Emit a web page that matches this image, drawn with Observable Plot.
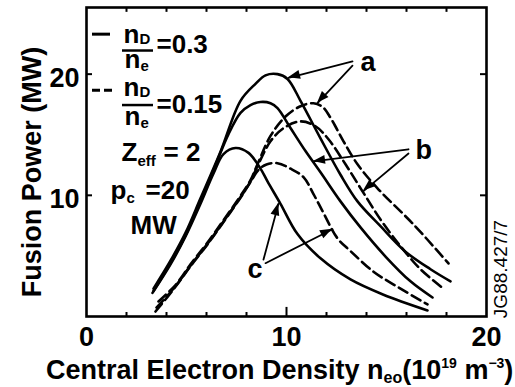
<!DOCTYPE html>
<html><head><meta charset="utf-8">
<script src="https://cdn.jsdelivr.net/npm/d3@7"></script>
<script src="https://cdn.jsdelivr.net/npm/@observablehq/plot@0.6"></script>
<style>html,body{margin:0;padding:0;background:#fff;}</style>
</head><body><div id="chart"></div>
<script>
// ---- data ----
const solidA_x = [3.35, 4.2, 4.95, 5.7, 6.7, 7.7, 8.45, 8.95, 9.55, 10.05, 10.7, 11.7, 12.7, 13.55, 14.7, 15.95, 17.2, 18.2];
const solidA_y = [2.3, 4.6, 6.9, 9.75, 13.6, 17.8, 19.2, 19.9, 20.0, 19.6, 17.8, 14.7, 11.7, 9.5, 7.45, 5.35, 3.9, 2.9];
const solidB_x = [3.35, 4.2, 4.95, 5.7, 6.45, 7.1, 7.7, 8.2, 8.7, 9.2, 9.55, 10.2, 10.95, 11.7, 12.7, 13.7, 14.95, 16.2, 17.3];
const solidB_y = [2.1, 4.4, 6.7, 9.55, 12.5, 15.05, 16.8, 17.45, 17.7, 17.6, 17.2, 15.55, 13.65, 11.9, 9.5, 7.35, 4.95, 2.9, 1.57];
const solidC_x = [3.3, 4.2, 4.95, 5.7, 6.35, 6.85, 7.45, 8.1, 8.7, 9.05, 9.7, 10.55, 11.7, 13.2, 14.85, 17.05];
const solidC_y = [1.95, 4.3, 6.6, 9.3, 11.8, 13.4, 13.9, 13.5, 12.2, 11.15, 9.3, 6.8, 4.8, 3.06, 1.8, 0.5];
const dashedA_x = [3.6, 4.45, 5.2, 6.05, 6.85, 7.7, 8.2, 8.55, 9.2, 9.95, 10.7, 11.35, 11.8, 12.2, 12.85, 13.55, 14.55, 16.35, 18.1];
const dashedA_y = [1.24, 2.6, 4.3, 6.1, 7.95, 9.95, 11.25, 12.56, 14.9, 16.5, 17.35, 17.6, 17.3, 16.4, 14.46, 12.56, 10.58, 7.6, 4.38];
const dashedB_x = [3.5, 4.45, 5.2, 6.05, 6.85, 7.7, 8.2, 8.55, 9.2, 9.85, 10.7, 11.45, 12.1, 12.95, 13.8, 14.7, 15.7, 16.7, 17.9];
const dashedB_y = [0.74, 2.5, 4.2, 6.0, 7.85, 9.85, 11.15, 12.4, 14.46, 15.54, 16.1, 15.7, 14.63, 12.56, 10.33, 8.0, 5.8, 3.9, 2.23];
const dashedC_x = [3.45, 4.45, 5.2, 6.05, 6.85, 7.7, 8.2, 8.6, 9.0, 9.55, 10.2, 10.85, 11.35, 11.8, 12.55, 13.2, 14.35, 15.7, 17.05];
const dashedC_y = [0.41, 2.45, 4.15, 5.95, 7.8, 9.8, 11.1, 12.1, 12.55, 12.65, 12.2, 11.5, 10.1, 8.7, 6.45, 5.4, 3.7, 2.3, 1.0];

const xTickLabels = [0, 10, 20];
const yTickLabels = [10, 20];
const xMinorTicks = [2, 4, 6, 8, 12, 14, 16, 18];
const xMajorTicks = [10];
const xTopTicks = [2, 4, 6, 8, 10, 12, 14, 16, 18];
const yTicks = [10, 20];

// annotation arrows: label -> curve (data units)
const arrowFromX = [13.3, 13.3, 16.1, 16.1, 8.85, 8.95];
const arrowFromY = [21.05, 20.7, 13.8, 13.45, 4.7, 4.4];
const arrowToX   = [10.1, 11.55, 11.35, 13.85, 9.6, 12.3];
const arrowToY   = [19.7, 17.6, 12.8, 10.35, 9.3, 7.2];
const curveLabels = ["a", "b", "c"];
const curveLabelX = [13.7, 16.45, 8.05];
const curveLabelY = [20.25, 12.98, 3.14];

// legend block texts (data units, baseline)
const legTexts = ["n", "D", "n", "e", "=0.3", "n", "D", "n", "e", "=0.15", "Z", "eff", "= 2", "p", "c", "=20", "MW"];
const legX = [1.85, 2.65, 1.9, 2.7, 3.5, 1.85, 2.65, 1.9, 2.7, 3.5, 1.75, 2.55, 3.85, 1.2, 2.0, 2.95, 2.2];
const legY = [22.56, 22.48, 20.5, 20.25, 21.74, 18.18, 18.1, 15.79, 15.54, 16.78, 12.81, 12.4, 12.81, 9.67, 9.34, 9.67, 6.78];
const legSmall = [false, true, false, true, false, false, true, false, true, false, false, true, false, false, true, false, false];
const fracBarY = [21.95, 17.45];
const swatchSolidY = [23.3];
const swatchDashedY = [18.68];

// ---- build tables ----
function rows(name, xs, ys) { return xs.map((x, i) => ({series: name, x, y: ys[i]})); }
const solidRows = [
  ...rows("a", solidA_x, solidA_y),
  ...rows("b", solidB_x, solidB_y),
  ...rows("c", solidC_x, solidC_y)];
const dashedRows = [
  ...rows("a", dashedA_x, dashedA_y),
  ...rows("b", dashedB_x, dashedB_y),
  ...rows("c", dashedC_x, dashedC_y)];
const arrows = arrowFromX.map((_, i) => ({x1: arrowFromX[i], y1: arrowFromY[i], x2: arrowToX[i], y2: arrowToY[i]}));
const labelRows = curveLabels.map((t, i) => ({t, x: curveLabelX[i], y: curveLabelY[i]}));
const legRows = legTexts.map((t, i) => ({t, x: legX[i], y: legY[i], small: legSmall[i]}));

const FONT = "'Liberation Sans', Arial, Helvetica, sans-serif";

const plot = Plot.plot({
  width: 515, height: 387,
  marginLeft: 86, marginRight: 29, marginTop: 7, marginBottom: 71,
  x: {domain: [0, 20], axis: null},
  y: {domain: [0, 25.5], axis: null},
  style: {fontFamily: FONT, background: "white", color: "black"},
  marks: [
    Plot.ruleX(xMinorTicks, {x: d => d, y1: 0, y2: 0.33, strokeWidth: 2}),
    Plot.ruleX(xMajorTicks, {x: d => d, y1: 0, y2: 0.75, strokeWidth: 2}),
    Plot.ruleX(xTopTicks, {x: d => d, y1: 25.5, y2: 25.1, strokeWidth: 2}),
    Plot.ruleY(yTicks, {y: d => d, x1: 0, x2: 0.3, strokeWidth: 2}),
    Plot.ruleY(yTicks, {y: d => d, x1: 20, x2: 19.7, strokeWidth: 2}),
    Plot.frame({strokeWidth: 2.6}),
    Plot.text(xTickLabels, {x: d => d, y: 0, dy: 21, text: d => String(d), fontSize: 27, fontWeight: "bold", lineAnchor: "middle"}),
    Plot.text(yTickLabels, {x: 0, y: d => d, dx: -7, dy: 4, text: d => String(d), fontSize: 27, fontWeight: "bold", textAnchor: "end", lineAnchor: "middle"}),
    Plot.line(solidRows, {x: "x", y: "y", z: "series", stroke: "black", strokeWidth: 2.6, curve: "catmull-rom"}),
    Plot.line(dashedRows, {x: "x", y: "y", z: "series", stroke: "black", strokeWidth: 2.6, strokeDasharray: "10,5", curve: "catmull-rom"}),
    Plot.arrow(arrows, {x1: "x1", y1: "y1", x2: "x2", y2: "y2", stroke: "black", strokeWidth: 1.8, headLength: 0}),
    Plot.text(labelRows, {x: "x", y: "y", text: "t", fontSize: 27, fontWeight: "bold", textAnchor: "start", lineAnchor: "bottom"}),
    Plot.ruleY(swatchSolidY, {y: d => d, x1: 0.3, x2: 1.2, strokeWidth: 3}),
    Plot.ruleY(swatchDashedY, {y: d => d, x1: 0.3, x2: 1.35, strokeWidth: 3, strokeDasharray: "8,4"}),
    Plot.ruleY(fracBarY, {y: d => d, x1: 1.8, x2: 3.35, strokeWidth: 2.5}),
    Plot.text(legRows.filter(d => !d.small), {x: "x", y: "y", text: "t", fontSize: 26, fontWeight: "bold", textAnchor: "start", lineAnchor: "bottom"}),
    Plot.text(legRows.filter(d => d.small), {x: "x", y: "y", text: "t", fontSize: 15, fontWeight: "bold", textAnchor: "start", lineAnchor: "bottom"})
  ]
});

const svg = d3.select(plot);
// filled arrowheads, positioned through the plot's own scales
const sx = plot.scale("x"), sy = plot.scale("y");
const heads = svg.append("g").attr("fill", "black");
arrows.forEach(a => {
  const x1 = sx.apply(a.x1), y1 = sy.apply(a.y1), x2 = sx.apply(a.x2), y2 = sy.apply(a.y2);
  const L = Math.hypot(x2 - x1, y2 - y1), ux = (x2 - x1) / L, uy = (y2 - y1) / L;
  const hl = 12, hw = 4.5;
  const bx = x2 - hl * ux, by = y2 - hl * uy;
  heads.append("path").attr("d",
    `M${x2},${y2}L${bx - hw * uy},${by + hw * ux}L${bx + hw * uy},${by - hw * ux}Z`);
});
svg.append("text")
  .attr("transform", "translate(41,172) rotate(-90)")
  .attr("text-anchor", "middle")
  .attr("font-family", FONT).attr("font-size", 27).attr("font-weight", "bold")
  .text("Fusion Power (MW)");
const xl = svg.append("text").attr("x", 46).attr("y", 379)
  .attr("text-anchor", "start")
  .attr("font-family", FONT).attr("font-size", 27).attr("font-weight", "bold");
xl.append("tspan").text("Central Electron Density n");
xl.append("tspan").attr("font-size", 16).attr("dy", 4).text("eo");
xl.append("tspan").attr("dy", -4).text("(10");
xl.append("tspan").attr("font-size", 14).attr("dy", -11).text("19");
xl.append("tspan").attr("dy", 11).text(" m");
xl.append("tspan").attr("font-size", 14).attr("dy", -11).text("\u22123");
xl.append("tspan").attr("dy", 11).text(")");
svg.append("text")
  .attr("transform", "translate(507,269) rotate(-90)")
  .attr("text-anchor", "middle")
  .attr("font-family", FONT).attr("font-size", 19)
  .text("JG88.427/7");

document.getElementById("chart").appendChild(plot);
</script>
</body></html>
